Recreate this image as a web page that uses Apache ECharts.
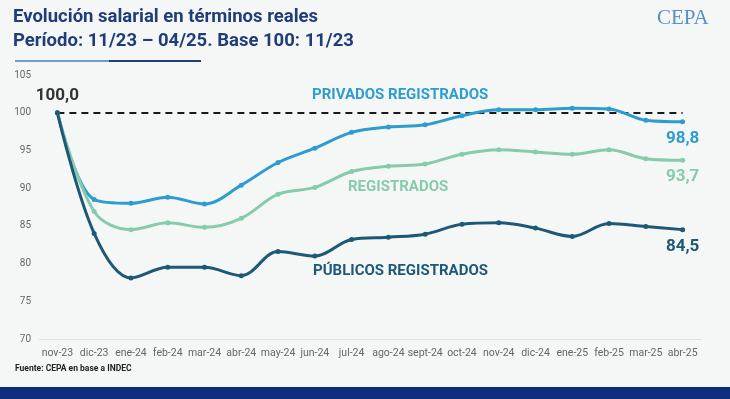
<!DOCTYPE html>
<html>
<head>
<meta charset="utf-8">
<script src="https://cdn.jsdelivr.net/npm/echarts@6/dist/echarts.min.js"></script>
<style>
  * { margin: 0; padding: 0; }
  html, body { width: 730px; height: 399px; background: #f5f7f7; overflow: hidden; }
  #main { width: 730px; height: 399px; }
</style>
</head>
<body>
<div id="main"></div>
<script>
// datos
var meses = ['nov-23','dic-23','ene-24','feb-24','mar-24','abr-24','may-24','jun-24','jul-24',
             'ago-24','sept-24','oct-24','nov-24','dic-24','ene-25','feb-25','mar-25','abr-25'];
var privados    = [100, 88.5, 88.0, 88.8, 87.9, 90.4, 93.4, 95.3, 97.4, 98.1, 98.4, 99.6, 100.4, 100.4, 100.6, 100.5, 99.0, 98.8];
var registrados = [100, 86.9, 84.5, 85.4, 84.8, 86.0, 89.2, 90.1, 92.2, 92.9, 93.2, 94.5, 95.1, 94.8, 94.5, 95.1, 93.9, 93.7];
var publicos    = [100, 84.0, 78.1, 79.5, 79.5, 78.4, 81.6, 81.0, 83.2, 83.5, 83.9, 85.2, 85.4, 84.7, 83.6, 85.3, 84.9, 84.5];
var yTicks = [70, 75, 80, 85, 90, 95, 100, 105];
var base = 100;

var colPriv = '#2d9dd0', colReg = '#86cbab', colPub = '#1d5877';
var last = meses.length - 1;

function fmt(v) { return v.toFixed(1).replace('.', ','); }

function endLabel(color) {
  return {
    show: true,
    position: 'bottom',
    distance: 6,
    color: color,
    fontFamily: 'Roboto',
    fontWeight: 'bold',
    fontSize: 17,
    formatter: function (p) {
      return p.dataIndex === last ? fmt(p.value) : '';
    }
  };
}

function serie(name, data, color) {
  return {
    name: name,
    type: 'line',
    smooth: 0.35,
    data: data,
    symbol: 'circle',
    symbolSize: 5,
    lineStyle: { color: color, width: 3 },
    itemStyle: { color: color },
    label: endLabel(color),
    z: 3
  };
}

var chart = echarts.init(document.getElementById('main'));
var sPub = serie('PÚBLICOS REGISTRADOS', publicos, colPub);
var sReg = serie('REGISTRADOS', registrados, colReg);
var sPriv = serie('PRIVADOS REGISTRADOS', privados, colPriv);
sPriv.markLine = {
  silent: true,
  symbol: 'none',
  label: { show: false },
  lineStyle: { color: '#1a1a1a', type: [7, 5], width: 2 },
  data: [[{ coord: [0, base] }, { coord: [last, base] }]],
  z: 1
};
// etiqueta del punto inicial (100,0)
sPub.data = publicos.map(function (v, i) {
  if (i === 0) {
    return { value: v, label: { show: true, position: 'top', distance: 6, color: '#333', fontSize: 17,
      formatter: function (p) { return fmt(p.value); } } };
  }
  return v;
});

chart.setOption({
  backgroundColor: '#f5f7f7',
  animation: false,
  grid: { left: 39, right: 29, top: 75, bottom: 60 },
  xAxis: {
    type: 'category',
    data: meses,
    boundaryGap: true,
    axisLine: { lineStyle: { color: '#dde1e1', width: 1 } },
    axisTick: { show: false },
    axisLabel: { color: '#666', fontSize: 10.5, fontFamily: 'Roboto', margin: 9, interval: 0 }
  },
  yAxis: {
    type: 'value',
    min: yTicks[0],
    max: yTicks[yTicks.length - 1],
    interval: 5,
    axisLine: { show: false },
    axisTick: { show: false },
    splitLine: { show: false },
    axisLabel: { color: '#666', fontSize: 10, fontFamily: 'Roboto', margin: 8, align: 'right' }
  },
  series: [sPriv, sReg, sPub],
  graphic: [
    { type: 'text', left: 13, top: 8, style: { text: 'Evolución salarial en términos reales', fill: '#1f3d78',
      font: 'bold 18.5px Roboto' } },
    { type: 'text', left: 13, top: 32, style: { text: 'Período: 11/23 – 04/25. Base 100: 11/23', fill: '#1f3d78',
      font: 'bold 18.5px Roboto' } },
    { type: 'rect', shape: { x: 15, y: 60, width: 94, height: 2 }, style: { fill: '#6e9bd0' } },
    { type: 'rect', shape: { x: 109, y: 60, width: 92, height: 2 }, style: { fill: '#1f3d78' } },
    { type: 'text', left: 657, top: 8, style: { text: 'CEPA', fill: '#5b8fcc', font: '21px "Liberation Serif"' } },
    { type: 'text', left: 312, top: 88, style: { text: 'PRIVADOS REGISTRADOS', fill: colPriv, font: 'bold 15px Roboto' } },
    { type: 'text', left: 348, top: 180, style: { text: 'REGISTRADOS', fill: colReg, font: 'bold 15px Roboto' } },
    { type: 'text', left: 313, top: 264, style: { text: 'PÚBLICOS REGISTRADOS', fill: colPub, font: 'bold 15px Roboto' } },
    { type: 'text', left: 15, top: 364, style: { text: 'Fuente: CEPA en base a INDEC', fill: '#222',
      font: 'bold 8.5px "Liberation Sans Narrow", Roboto' } },
    { type: 'rect', shape: { x: 0, y: 387, width: 730, height: 12 }, style: { fill: '#0c2e7c' } }
  ]
});
</script>
</body>
</html>
